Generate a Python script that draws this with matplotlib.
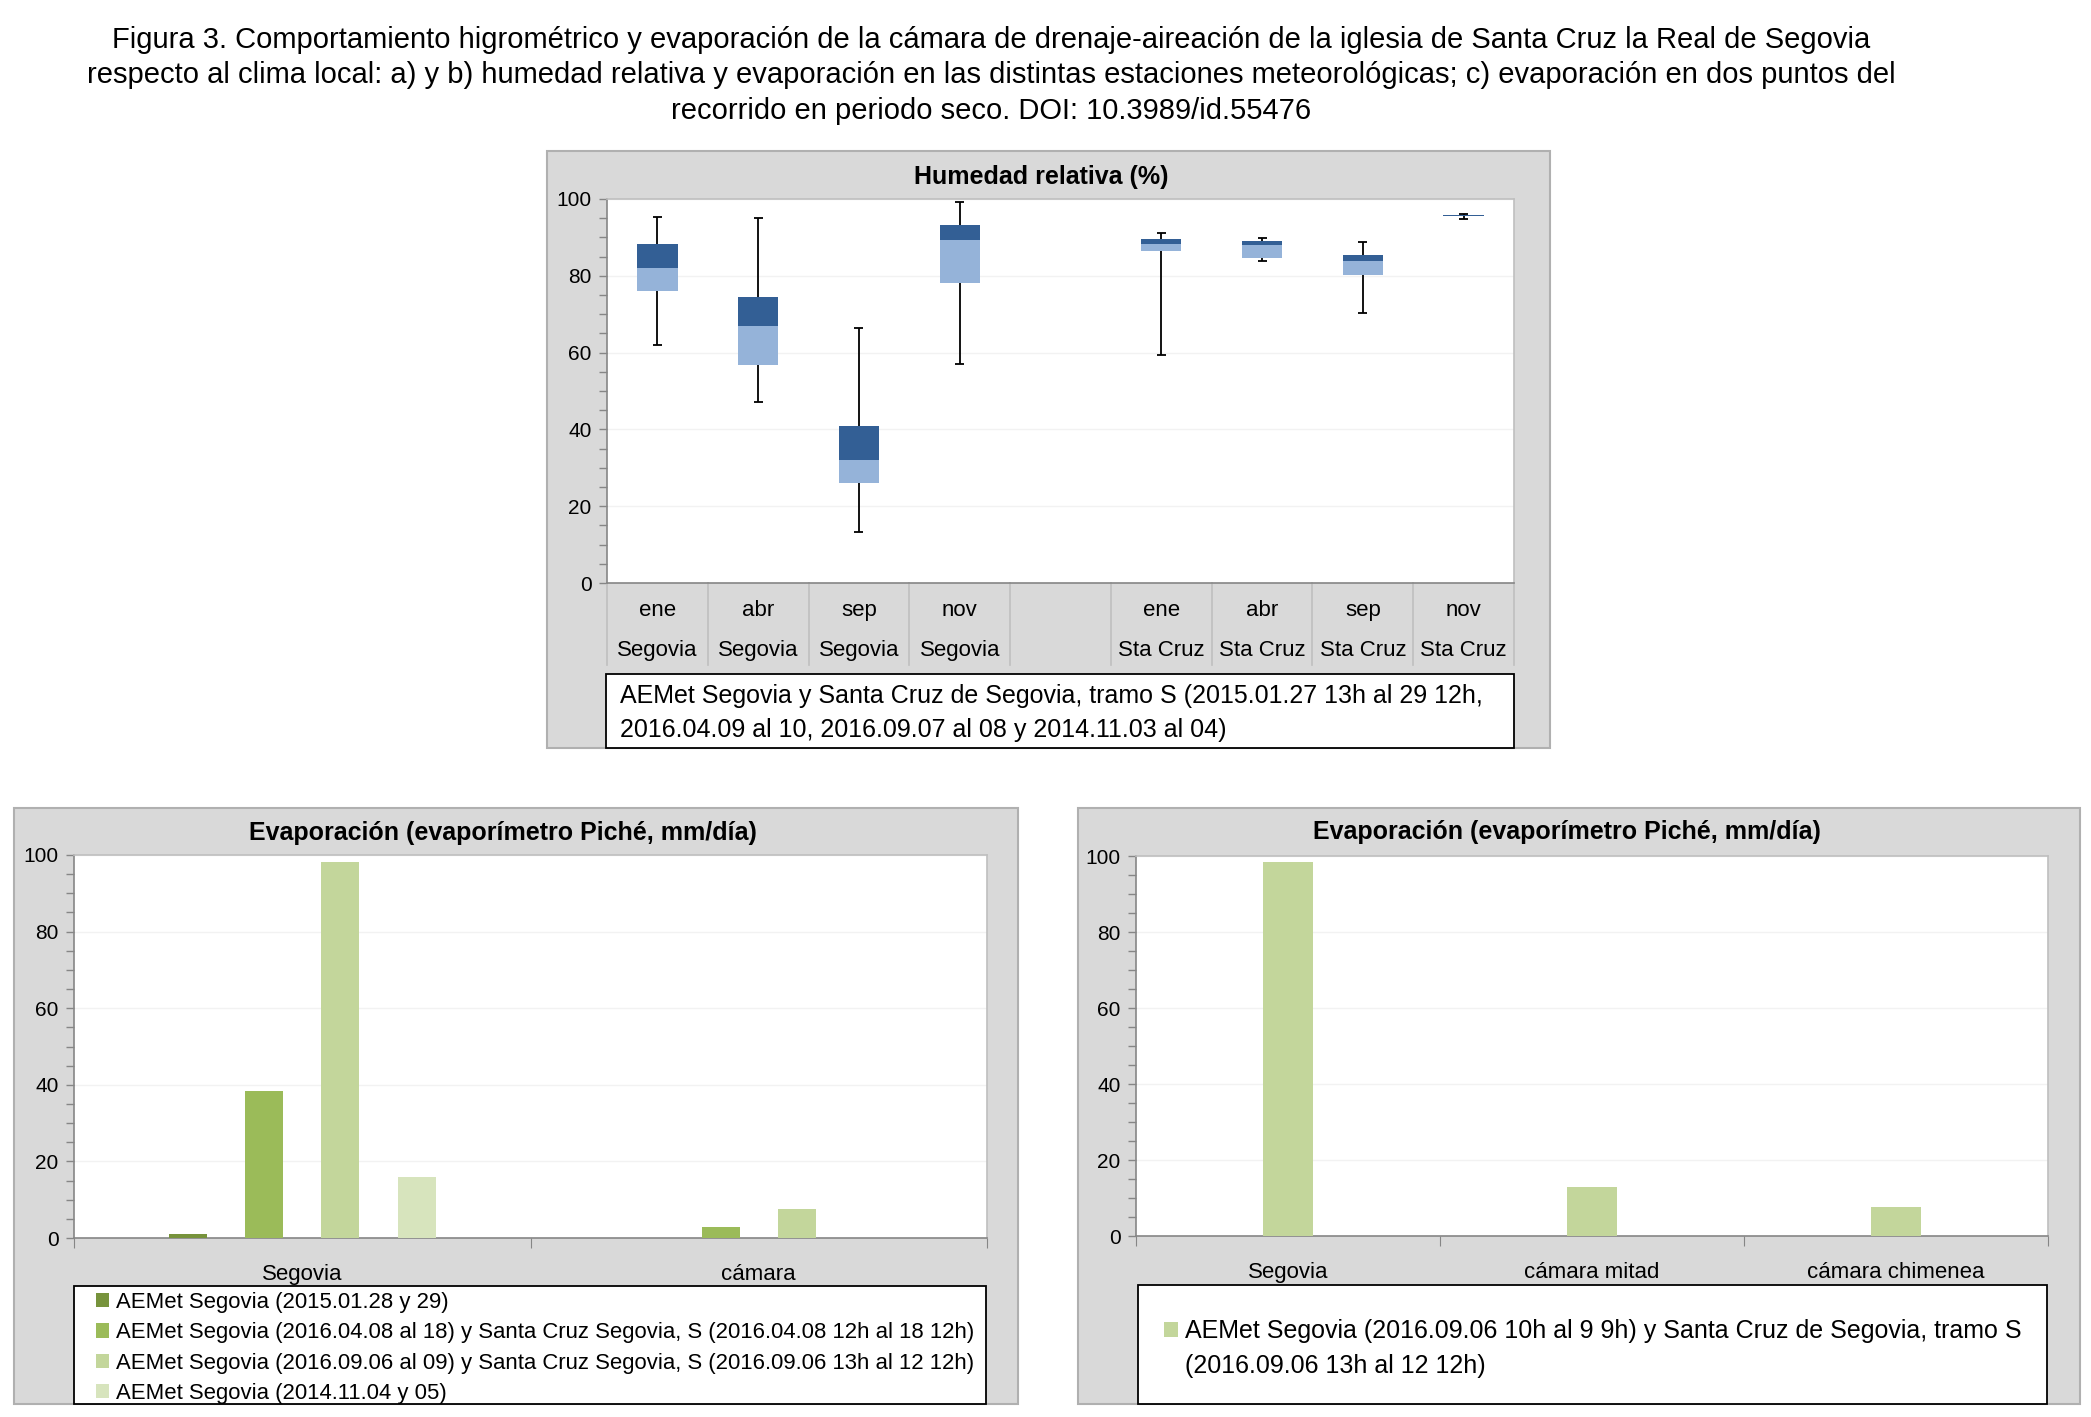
import numpy as np
import matplotlib
matplotlib.use('Agg')
import matplotlib.pyplot as plt
from matplotlib.patches import Rectangle
from matplotlib.ticker import MultipleLocator, FixedLocator
import matplotlib.transforms as mtransforms

W, H = 2091, 1417

# --- data -------------------------------------------------------------
hr_months = ['ene', 'abr', 'sep', 'nov', '', 'ene', 'abr', 'sep', 'nov']
hr_sites = ['Segovia', 'Segovia', 'Segovia', 'Segovia', '',
            'Sta Cruz', 'Sta Cruz', 'Sta Cruz', 'Sta Cruz']
nan = np.nan
hr_min = [62.0, 47.1, 13.2, 57.1, nan, 59.3, 83.9, 70.4, 94.9]
hr_q1 = [76.0, 56.9, 26.1, 78.2, nan, 86.4, 84.7, 80.1, 95.5]
hr_med = [82.0, 67.0, 32.1, 89.2, nan, 88.2, 87.9, 83.9, 95.7]
hr_q3 = [88.2, 74.4, 40.9, 93.1, nan, 89.6, 89.1, 85.5, 95.9]
hr_max = [95.2, 95.0, 66.3, 99.2, nan, 91.2, 89.9, 88.9, 96.2]
hr_note = ('AEMet Segovia y Santa Cruz de Segovia, tramo S (2015.01.27 13h al 29 12h,\n'
           '2016.04.09 al 10, 2016.09.07 al 08 y 2014.11.03 al 04)')

ev_cats = ['Segovia', 'cámara']
ev_labels = ['AEMet Segovia (2015.01.28 y 29)',
             'AEMet Segovia (2016.04.08 al 18) y Santa Cruz Segovia, S (2016.04.08 12h al 18 12h)',
             'AEMet Segovia (2016.09.06 al 09) y Santa Cruz Segovia, S (2016.09.06 13h al 12 12h)',
             'AEMet Segovia (2014.11.04 y 05)']
ev_values = [[1.0, 0.0],
             [38.3, 3.0],
             [98.3, 7.5],
             [16.0, 0.0]]

dry_cats = ['Segovia', 'cámara mitad', 'cámara chimenea']
dry_values = [98.3, 12.8, 7.6]
dry_label = ('AEMet Segovia (2016.09.06 10h al 9 9h) y Santa Cruz de Segovia, tramo S\n'
             '(2016.09.06 13h al 12 12h)')

title = ('Figura 3. Comportamiento higrométrico y evaporación de la cámara de drenaje-aireación de la iglesia de Santa Cruz la Real de Segovia\n'
         'respecto al clima local: a) y b) humedad relativa y evaporación en las distintas estaciones meteorológicas; c) evaporación en dos puntos del\n'
         'recorrido en periodo seco. DOI: 10.3989/id.55476')

# --- styling ----------------------------------------------------------
plt.rcParams['font.family'] = ['Liberation Sans', 'DejaVu Sans']

dark_blue = '#335F95'
light_blue = '#95B3D9'
greens = ['#77933C', '#9BBB59', '#C3D69B', '#D7E4BD']
panel_gray = '#D9D9D9'
axis_gray = '#868686'


def fx(px):
    return px / W


def fy(py):
    return 1 - py / H


def axrect(l, t, r, b):
    return [l / W, 1 - b / H, (r - l) / W, (b - t) / H]


def panel(l, t, r, b, fc=panel_gray, ec='#B0B0B0', lw=1.5, z=0):
    fig.add_artist(Rectangle((fx(l), fy(b)), (r - l) / W, (b - t) / H,
                             transform=fig.transFigure, fc=fc, ec=ec, lw=lw, zorder=z))


def style_axes(ax):
    ax.set_facecolor('white')
    ax.set_ylim(0, 100)
    ax.yaxis.set_major_locator(MultipleLocator(20))
    ax.yaxis.set_minor_locator(MultipleLocator(5))
    ax.tick_params(axis='y', which='both', direction='out', length=6, width=1,
                   colors=axis_gray, labelcolor='black', labelsize=15, pad=5)
    ax.yaxis.grid(True, which='major', color='#F2F2F2', lw=1)
    ax.set_axisbelow(True)
    for s in ['top', 'right']:
        ax.spines[s].set_color('#BFBFBF')
    for s in ['left', 'bottom']:
        ax.spines[s].set_color(axis_gray)
    for s in ax.spines.values():
        s.set_linewidth(1.2)


fig = plt.figure(figsize=(W / 100, H / 100), dpi=100)

fig.text(fx(991), fy(26), title, ha='center', va='top', fontsize=21,
         linespacing=1.33)

# --- a) humedad relativa ---------------------------------------------
panel(547, 151, 1550, 748)
ax1 = fig.add_axes(axrect(607, 199, 1514, 583))
style_axes(ax1)
pos = np.arange(len(hr_months))
ax1.set_xlim(-0.5, len(hr_months) - 0.5)
ax1.set_xticks([])
q1 = np.array(hr_q1)
med = np.array(hr_med)
q3 = np.array(hr_q3)
ax1.vlines(pos, hr_min, hr_max, color='black', lw=1.3, zorder=2)
ax1.hlines(hr_min, pos - 0.045, pos + 0.045, color='black', lw=1.3, zorder=2)
ax1.hlines(hr_max, pos - 0.045, pos + 0.045, color='black', lw=1.3, zorder=2)
ax1.bar(pos, med - q1, bottom=q1, width=0.4, color=light_blue, zorder=3)
ax1.bar(pos, q3 - med, bottom=med, width=0.4, color=dark_blue, zorder=3)

trans = mtransforms.blended_transform_factory(ax1.transData, ax1.transAxes)
band = (665 - 583) / 384
for b in np.arange(-0.5, len(hr_months)):
    ax1.plot([b, b], [0, -band], transform=trans, color='#BFBFBF', lw=1.2, clip_on=False)
for p, m, s in zip(pos, hr_months, hr_sites):
    ax1.text(p, -(610 - 583) / 384, m, transform=trans, ha='center', va='center',
             fontsize=16)
    ax1.text(p, -(650 - 583) / 384, s, transform=trans, ha='center', va='center',
             fontsize=16)
fig.text(fx(1041), fy(177), 'Humedad relativa (%)', ha='center', va='center',
         fontsize=18, fontweight='bold')
panel(606, 674, 1514, 748, fc='white', ec='black', lw=1.3, z=1)
fig.text(fx(620), fy(713), hr_note, ha='left', va='center', fontsize=18,
         linespacing=1.55, zorder=2)

# --- b) evaporación estaciones ---------------------------------------
panel(14, 808, 1018, 1404)
ax2 = fig.add_axes(axrect(74, 855, 987, 1238))
style_axes(ax2)
ax2.set_xlim(-0.5, len(ev_cats) - 0.5)
cpos = np.arange(len(ev_cats))
step = 0.167
handles = []
for i, vals in enumerate(ev_values):
    off = (i - (len(ev_values) - 1) / 2) * step
    h = ax2.bar(cpos + off, vals, width=0.0835, color=greens[i], lw=0, zorder=3)
    handles.append(h)
ax2.xaxis.set_major_locator(FixedLocator(np.arange(-0.5, len(ev_cats))))
ax2.xaxis.set_major_formatter(plt.NullFormatter())
ax2.set_xticks(cpos, ev_cats, minor=True)
ax2.tick_params(axis='x', which='major', direction='out', length=7, colors=axis_gray)
ax2.tick_params(axis='x', which='minor', length=0, pad=19, labelsize=16)
fig.text(fx(503), fy(833), 'Evaporación (evaporímetro Piché, mm/día)', ha='center',
         va='center', fontsize=18, fontweight='bold')
panel(74, 1286, 986, 1404, fc='white', ec='black', lw=1.3, z=1)
leg = fig.legend(handles, ev_labels, loc='upper left', bbox_to_anchor=(fx(96), fy(1292)),
                 frameon=False, fontsize=15.9,
                 handlelength=0.6, handleheight=0.6, handletextpad=0.3,
                 labelspacing=0.42, borderpad=0, borderaxespad=0)
leg.set_zorder(5)

# --- c) evaporación periodo seco -------------------------------------
panel(1078, 808, 2080, 1404)
ax3 = fig.add_axes(axrect(1136, 856, 2048, 1236))
style_axes(ax3)
ax3.set_xlim(-0.5, len(dry_cats) - 0.5)
dpos = np.arange(len(dry_cats))
h3 = ax3.bar(dpos, dry_values, width=0.165, color=greens[2], lw=0, zorder=3)
ax3.xaxis.set_major_locator(FixedLocator(np.arange(-0.5, len(dry_cats))))
ax3.xaxis.set_major_formatter(plt.NullFormatter())
ax3.set_xticks(dpos, dry_cats, minor=True)
ax3.tick_params(axis='x', which='major', direction='out', length=7, colors=axis_gray)
ax3.tick_params(axis='x', which='minor', length=0, pad=19, labelsize=16)
fig.text(fx(1567), fy(832), 'Evaporación (evaporímetro Piché, mm/día)', ha='center',
         va='center', fontsize=18, fontweight='bold')
panel(1138, 1285, 2047, 1404, fc='white', ec='black', lw=1.3, z=1)
dry_lines = dry_label.split('\n')
leg3 = fig.legend([h3], dry_lines[:1], loc='center left', bbox_to_anchor=(fx(1164), fy(1331)),
                  frameon=False, fontsize=18,
                  handlelength=0.55, handleheight=0.55, handletextpad=0.28,
                  borderpad=0, borderaxespad=0)
leg3.set_zorder(5)
fig.canvas.draw()
bb = leg3.get_texts()[0].get_window_extent()
fig.text(bb.x0 / W, fy(1366), dry_lines[1], ha='left', va='center', fontsize=18, zorder=5)

fig.savefig('out.png', dpi=100)
